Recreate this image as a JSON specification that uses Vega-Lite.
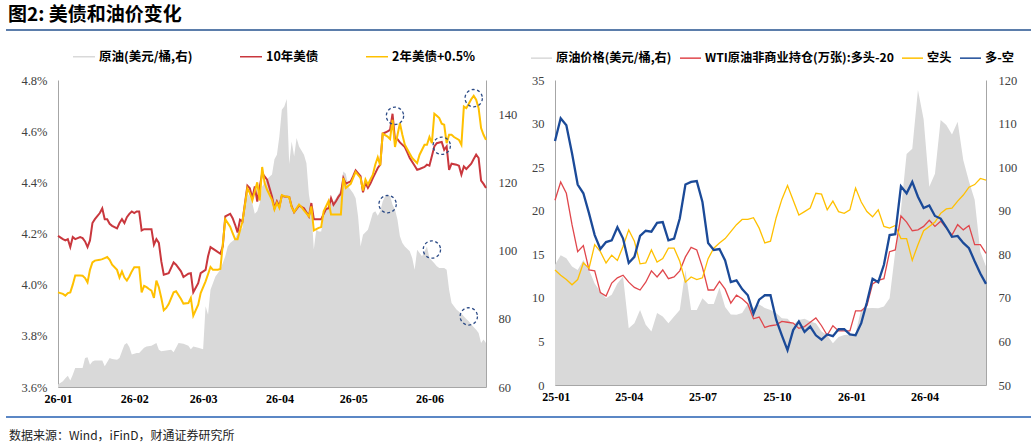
{
  "$schema": "https://vega.github.io/schema/vega-lite/v6.json",
  "padding": {"left": 5, "top": 6, "right": 0, "bottom": 0},
  "background": "white",
  "title": {"text": "图2: 美债和油价变化", "anchor": "start", "font": "Noto Sans CJK SC", "fontSize": 19, "fontWeight": "bold", "color": "#000000", "offset": 4, "dx": 3},
  "datasets": {
    "y10": [
      {"d":"2026-01-01","v":4.191},{"d":"2026-01-03","v":4.178},{"d":"2026-01-04","v":4.173},{"d":"2026-01-05","v":4.178},{"d":"2026-01-06","v":4.147},{"d":"2026-01-07","v":4.186},{"d":"2026-01-08","v":4.178},{"d":"2026-01-09","v":4.182},{"d":"2026-01-10","v":4.186},{"d":"2026-01-11","v":4.182},{"d":"2026-01-12","v":4.169},{"d":"2026-01-13","v":4.147},{"d":"2026-01-14","v":4.173},{"d":"2026-01-15","v":4.241},{"d":"2026-01-16","v":4.256},{"d":"2026-01-18","v":4.280},{"d":"2026-01-19","v":4.298},{"d":"2026-01-20","v":4.256},{"d":"2026-01-21","v":4.256},{"d":"2026-01-22","v":4.238},{"d":"2026-01-23","v":4.230},{"d":"2026-01-25","v":4.220},{"d":"2026-01-26","v":4.241},{"d":"2026-01-27","v":4.256},{"d":"2026-01-28","v":4.241},{"d":"2026-01-29","v":4.264},{"d":"2026-01-30","v":4.277},{"d":"2026-01-31","v":4.286},{"d":"2026-02-01","v":4.280},{"d":"2026-02-02","v":4.286},{"d":"2026-02-03","v":4.286},{"d":"2026-02-04","v":4.212},{"d":"2026-02-05","v":4.217},{"d":"2026-02-07","v":4.217},{"d":"2026-02-08","v":4.217},{"d":"2026-02-09","v":4.156},{"d":"2026-02-10","v":4.178},{"d":"2026-02-11","v":4.163},{"d":"2026-02-12","v":4.091},{"d":"2026-02-13","v":4.039},{"d":"2026-02-15","v":4.045},{"d":"2026-02-17","v":4.087},{"d":"2026-02-18","v":4.078},{"d":"2026-02-20","v":4.052},{"d":"2026-02-21","v":4.030},{"d":"2026-02-23","v":4.043},{"d":"2026-02-24","v":4.045},{"d":"2026-02-25","v":3.970},{"d":"2026-02-27","v":4.006},{"d":"2026-02-28","v":4.045},{"d":"2026-03-02","v":4.058},{"d":"2026-03-03","v":4.111},{"d":"2026-03-04","v":4.147},{"d":"2026-03-06","v":4.134},{"d":"2026-03-08","v":4.121},{"d":"2026-03-09","v":4.150},{"d":"2026-03-10","v":4.267},{"d":"2026-03-12","v":4.277},{"d":"2026-03-13","v":4.260},{"d":"2026-03-14","v":4.234},{"d":"2026-03-15","v":4.204},{"d":"2026-03-16","v":4.254},{"d":"2026-03-17","v":4.247},{"d":"2026-03-19","v":4.387},{"d":"2026-03-20","v":4.377},{"d":"2026-03-21","v":4.338},{"d":"2026-03-22","v":4.384},{"d":"2026-03-23","v":4.325},{"d":"2026-03-25","v":4.436},{"d":"2026-03-27","v":4.410},{"d":"2026-03-29","v":4.345},{"d":"2026-03-30","v":4.299},{"d":"2026-03-31","v":4.326},{"d":"2026-04-01","v":4.306},{"d":"2026-04-02","v":4.348},{"d":"2026-04-03","v":4.345},{"d":"2026-04-05","v":4.343},{"d":"2026-04-06","v":4.306},{"d":"2026-04-07","v":4.283},{"d":"2026-04-09","v":4.309},{"d":"2026-04-10","v":4.304},{"d":"2026-04-11","v":4.299},{"d":"2026-04-13","v":4.267},{"d":"2026-04-14","v":4.319},{"d":"2026-04-15","v":4.256},{"d":"2026-04-17","v":4.256},{"d":"2026-04-18","v":4.256},{"d":"2026-04-20","v":4.296},{"d":"2026-04-21","v":4.299},{"d":"2026-04-22","v":4.338},{"d":"2026-04-23","v":4.312},{"d":"2026-04-24","v":4.326},{"d":"2026-04-25","v":4.343},{"d":"2026-04-26","v":4.356},{"d":"2026-04-27","v":4.417},{"d":"2026-04-28","v":4.395},{"d":"2026-04-30","v":4.404},{"d":"2026-05-01","v":4.424},{"d":"2026-05-02","v":4.447},{"d":"2026-05-04","v":4.424},{"d":"2026-05-05","v":4.361},{"d":"2026-05-06","v":4.398},{"d":"2026-05-07","v":4.378},{"d":"2026-05-08","v":4.395},{"d":"2026-05-09","v":4.417},{"d":"2026-05-10","v":4.436},{"d":"2026-05-11","v":4.456},{"d":"2026-05-12","v":4.469},{"d":"2026-05-13","v":4.590},{"d":"2026-05-15","v":4.599},{"d":"2026-05-16","v":4.605},{"d":"2026-05-17","v":4.668},{"d":"2026-05-18","v":4.566},{"d":"2026-05-19","v":4.569},{"d":"2026-05-20","v":4.556},{"d":"2026-05-22","v":4.538},{"d":"2026-05-23","v":4.517},{"d":"2026-05-24","v":4.495},{"d":"2026-05-26","v":4.465},{"d":"2026-05-27","v":4.449},{"d":"2026-05-28","v":4.452},{"d":"2026-05-30","v":4.460},{"d":"2026-05-31","v":4.469},{"d":"2026-06-01","v":4.465},{"d":"2026-06-03","v":4.540},{"d":"2026-06-04","v":4.553},{"d":"2026-06-05","v":4.556},{"d":"2026-06-06","v":4.558},{"d":"2026-06-07","v":4.527},{"d":"2026-06-08","v":4.540},{"d":"2026-06-09","v":4.449},{"d":"2026-06-10","v":4.473},{"d":"2026-06-12","v":4.469},{"d":"2026-06-13","v":4.465},{"d":"2026-06-14","v":4.430},{"d":"2026-06-15","v":4.462},{"d":"2026-06-16","v":4.452},{"d":"2026-06-18","v":4.473},{"d":"2026-06-19","v":4.491},{"d":"2026-06-20","v":4.508},{"d":"2026-06-21","v":4.495},{"d":"2026-06-22","v":4.407},{"d":"2026-06-23","v":4.394},{"d":"2026-06-24","v":4.378}
    ],
    "y2": [
      {"d":"2026-01-01","v":3.970},{"d":"2026-01-03","v":3.964},{"d":"2026-01-04","v":3.957},{"d":"2026-01-05","v":3.967},{"d":"2026-01-06","v":3.970},{"d":"2026-01-07","v":4.000},{"d":"2026-01-08","v":4.036},{"d":"2026-01-10","v":4.036},{"d":"2026-01-11","v":4.035},{"d":"2026-01-12","v":4.026},{"d":"2026-01-13","v":4.009},{"d":"2026-01-14","v":4.058},{"d":"2026-01-15","v":4.087},{"d":"2026-01-16","v":4.094},{"d":"2026-01-18","v":4.097},{"d":"2026-01-19","v":4.100},{"d":"2026-01-20","v":4.104},{"d":"2026-01-21","v":4.108},{"d":"2026-01-22","v":4.097},{"d":"2026-01-23","v":4.078},{"d":"2026-01-25","v":4.058},{"d":"2026-01-26","v":4.028},{"d":"2026-01-27","v":4.052},{"d":"2026-01-28","v":4.028},{"d":"2026-01-29","v":4.016},{"d":"2026-01-30","v":4.032},{"d":"2026-01-31","v":4.052},{"d":"2026-02-01","v":4.068},{"d":"2026-02-03","v":4.068},{"d":"2026-02-04","v":3.970},{"d":"2026-02-05","v":3.995},{"d":"2026-02-06","v":3.990},{"d":"2026-02-07","v":3.983},{"d":"2026-02-08","v":3.977},{"d":"2026-02-09","v":3.948},{"d":"2026-02-10","v":4.016},{"d":"2026-02-11","v":3.990},{"d":"2026-02-12","v":3.948},{"d":"2026-02-13","v":3.900},{"d":"2026-02-14","v":3.909},{"d":"2026-02-15","v":3.924},{"d":"2026-02-17","v":3.970},{"d":"2026-02-18","v":3.974},{"d":"2026-02-20","v":3.944},{"d":"2026-02-21","v":3.926},{"d":"2026-02-23","v":3.928},{"d":"2026-02-24","v":3.948},{"d":"2026-02-25","v":3.879},{"d":"2026-02-27","v":3.922},{"d":"2026-02-28","v":3.967},{"d":"2026-03-02","v":4.013},{"d":"2026-03-04","v":4.069},{"d":"2026-03-05","v":4.058},{"d":"2026-03-07","v":4.058},{"d":"2026-03-08","v":4.061},{"d":"2026-03-10","v":4.256},{"d":"2026-03-12","v":4.227},{"d":"2026-03-13","v":4.201},{"d":"2026-03-14","v":4.178},{"d":"2026-03-15","v":4.178},{"d":"2026-03-17","v":4.247},{"d":"2026-03-19","v":4.377},{"d":"2026-03-20","v":4.358},{"d":"2026-03-21","v":4.329},{"d":"2026-03-23","v":4.400},{"d":"2026-03-24","v":4.329},{"d":"2026-03-25","v":4.460},{"d":"2026-03-26","v":4.397},{"d":"2026-03-27","v":4.371},{"d":"2026-03-29","v":4.332},{"d":"2026-03-30","v":4.294},{"d":"2026-03-31","v":4.320},{"d":"2026-04-01","v":4.300},{"d":"2026-04-02","v":4.350},{"d":"2026-04-03","v":4.346},{"d":"2026-04-05","v":4.342},{"d":"2026-04-06","v":4.303},{"d":"2026-04-07","v":4.284},{"d":"2026-04-09","v":4.313},{"d":"2026-04-10","v":4.303},{"d":"2026-04-11","v":4.290},{"d":"2026-04-13","v":4.267},{"d":"2026-04-14","v":4.306},{"d":"2026-04-15","v":4.212},{"d":"2026-04-17","v":4.222},{"d":"2026-04-18","v":4.225},{"d":"2026-04-19","v":4.287},{"d":"2026-04-21","v":4.327},{"d":"2026-04-22","v":4.274},{"d":"2026-04-26","v":4.274},{"d":"2026-04-27","v":4.417},{"d":"2026-04-28","v":4.378},{"d":"2026-04-30","v":4.394},{"d":"2026-05-01","v":4.417},{"d":"2026-05-02","v":4.441},{"d":"2026-05-04","v":4.417},{"d":"2026-05-05","v":4.368},{"d":"2026-05-06","v":4.411},{"d":"2026-05-07","v":4.391},{"d":"2026-05-08","v":4.411},{"d":"2026-05-09","v":4.430},{"d":"2026-05-10","v":4.470},{"d":"2026-05-11","v":4.498},{"d":"2026-05-12","v":4.466},{"d":"2026-05-13","v":4.590},{"d":"2026-05-15","v":4.579},{"d":"2026-05-16","v":4.569},{"d":"2026-05-17","v":4.644},{"d":"2026-05-18","v":4.538},{"d":"2026-05-20","v":4.631},{"d":"2026-05-21","v":4.586},{"d":"2026-05-22","v":4.547},{"d":"2026-05-24","v":4.512},{"d":"2026-05-25","v":4.495},{"d":"2026-05-27","v":4.475},{"d":"2026-05-28","v":4.508},{"d":"2026-05-30","v":4.547},{"d":"2026-05-31","v":4.547},{"d":"2026-06-01","v":4.577},{"d":"2026-06-02","v":4.553},{"d":"2026-06-03","v":4.668},{"d":"2026-06-04","v":4.660},{"d":"2026-06-05","v":4.651},{"d":"2026-06-06","v":4.629},{"d":"2026-06-07","v":4.625},{"d":"2026-06-08","v":4.553},{"d":"2026-06-09","v":4.586},{"d":"2026-06-10","v":4.586},{"d":"2026-06-11","v":4.577},{"d":"2026-06-13","v":4.566},{"d":"2026-06-14","v":4.547},{"d":"2026-06-15","v":4.696},{"d":"2026-06-16","v":4.690},{"d":"2026-06-17","v":4.707},{"d":"2026-06-18","v":4.725},{"d":"2026-06-19","v":4.738},{"d":"2026-06-20","v":4.723},{"d":"2026-06-21","v":4.690},{"d":"2026-06-22","v":4.612},{"d":"2026-06-23","v":4.586},{"d":"2026-06-24","v":4.566}
    ],
    "oilL": [
      {"d":"2026-01-01","v":60.7},{"d":"2026-01-03","v":61.7},{"d":"2026-01-04","v":62.6},{"d":"2026-01-05","v":63.3},{"d":"2026-01-06","v":61.9},{"d":"2026-01-07","v":63.6},{"d":"2026-01-08","v":65.6},{"d":"2026-01-11","v":65.6},{"d":"2026-01-12","v":68.5},{"d":"2026-01-13","v":68.7},{"d":"2026-01-14","v":66.5},{"d":"2026-01-15","v":67.5},{"d":"2026-01-16","v":67.8},{"d":"2026-01-19","v":67.8},{"d":"2026-01-20","v":66.1},{"d":"2026-01-22","v":68.5},{"d":"2026-01-23","v":68.2},{"d":"2026-01-25","v":68.0},{"d":"2026-01-26","v":68.5},{"d":"2026-01-27","v":70.5},{"d":"2026-01-28","v":72.4},{"d":"2026-01-29","v":72.9},{"d":"2026-01-30","v":71.7},{"d":"2026-01-31","v":69.5},{"d":"2026-02-02","v":70.0},{"d":"2026-02-03","v":70.0},{"d":"2026-02-05","v":71.5},{"d":"2026-02-06","v":71.9},{"d":"2026-02-08","v":72.1},{"d":"2026-02-10","v":72.9},{"d":"2026-02-11","v":70.9},{"d":"2026-02-12","v":70.5},{"d":"2026-02-16","v":70.9},{"d":"2026-02-17","v":70.2},{"d":"2026-02-19","v":72.9},{"d":"2026-02-21","v":72.7},{"d":"2026-02-23","v":72.1},{"d":"2026-02-24","v":71.1},{"d":"2026-02-25","v":71.9},{"d":"2026-02-27","v":71.5},{"d":"2026-03-01","v":71.1},{"d":"2026-03-02","v":83.7},{"d":"2026-03-03","v":81.2},{"d":"2026-03-04","v":88.5},{"d":"2026-03-06","v":92.4},{"d":"2026-03-08","v":94.4},{"d":"2026-03-10","v":98.3},{"d":"2026-03-11","v":101.2},{"d":"2026-03-12","v":102.2},{"d":"2026-03-14","v":103.4},{"d":"2026-03-15","v":105.1},{"d":"2026-03-17","v":106.6},{"d":"2026-03-18","v":112.9},{"d":"2026-03-19","v":116.8},{"d":"2026-03-20","v":115.8},{"d":"2026-03-21","v":113.9},{"d":"2026-03-22","v":110.8},{"d":"2026-03-23","v":111.5},{"d":"2026-03-24","v":113.9},{"d":"2026-03-25","v":118.8},{"d":"2026-03-27","v":121.0},{"d":"2026-03-29","v":122.3},{"d":"2026-03-30","v":126.8},{"d":"2026-03-31","v":128.1},{"d":"2026-04-01","v":133.5},{"d":"2026-04-02","v":141.3},{"d":"2026-04-03","v":142.2},{"d":"2026-04-04","v":144.4},{"d":"2026-04-05","v":125.4},{"d":"2026-04-06","v":132.0},{"d":"2026-04-07","v":127.6},{"d":"2026-04-08","v":133.0},{"d":"2026-04-09","v":130.5},{"d":"2026-04-11","v":128.1},{"d":"2026-04-12","v":125.6},{"d":"2026-04-13","v":116.5},{"d":"2026-04-14","v":112.0},{"d":"2026-04-15","v":100.3},{"d":"2026-04-16","v":106.1},{"d":"2026-04-17","v":105.6},{"d":"2026-04-18","v":105.6},{"d":"2026-04-19","v":110.0},{"d":"2026-04-20","v":112.0},{"d":"2026-04-21","v":113.0},{"d":"2026-04-23","v":114.4},{"d":"2026-04-24","v":115.3},{"d":"2026-04-26","v":117.8},{"d":"2026-04-27","v":123.2},{"d":"2026-04-28","v":122.5},{"d":"2026-04-29","v":118.8},{"d":"2026-05-01","v":116.8},{"d":"2026-05-02","v":115.3},{"d":"2026-05-03","v":110.0},{"d":"2026-05-04","v":101.2},{"d":"2026-05-05","v":104.6},{"d":"2026-05-07","v":106.1},{"d":"2026-05-08","v":108.5},{"d":"2026-05-09","v":111.0},{"d":"2026-05-10","v":111.5},{"d":"2026-05-11","v":110.2},{"d":"2026-05-12","v":111.5},{"d":"2026-05-13","v":114.4},{"d":"2026-05-14","v":115.9},{"d":"2026-05-16","v":116.1},{"d":"2026-05-17","v":113.4},{"d":"2026-05-18","v":112.0},{"d":"2026-05-19","v":109.1},{"d":"2026-05-20","v":104.2},{"d":"2026-05-21","v":102.2},{"d":"2026-05-22","v":101.2},{"d":"2026-05-24","v":99.8},{"d":"2026-05-25","v":97.8},{"d":"2026-05-26","v":94.4},{"d":"2026-05-27","v":100.2},{"d":"2026-05-28","v":99.3},{"d":"2026-05-29","v":98.3},{"d":"2026-05-31","v":101.2},{"d":"2026-06-01","v":97.8},{"d":"2026-06-03","v":96.3},{"d":"2026-06-04","v":95.4},{"d":"2026-06-05","v":94.9},{"d":"2026-06-07","v":94.9},{"d":"2026-06-08","v":94.4},{"d":"2026-06-09","v":88.5},{"d":"2026-06-10","v":84.6},{"d":"2026-06-12","v":82.7},{"d":"2026-06-14","v":81.5},{"d":"2026-06-16","v":79.9},{"d":"2026-06-17","v":79.3},{"d":"2026-06-18","v":78.3},{"d":"2026-06-20","v":76.8},{"d":"2026-06-21","v":75.8},{"d":"2026-06-22","v":72.9},{"d":"2026-06-23","v":73.9},{"d":"2026-06-24","v":72.9}
    ],
    "circY": [{"d":"2026-05-18","v":4.660},{"d":"2026-06-19","v":4.729},{"d":"2026-06-06","v":4.543}],
    "circO": [{"d":"2026-05-15","v":113.6},{"d":"2026-06-02","v":100.3},{"d":"2026-06-17","v":80.7}],
    "footer": [{"t": "数据来源：Wind，iFinD，财通证券研究所"}],
    "cot": [
      {"d":"2024-12-31","oil":77.6,"long":21.2,"short":13.2,"net":28.0},
      {"d":"2025-01-07","oil":79.8,"long":23.3,"short":12.6,"net":30.6},
      {"d":"2025-01-14","oil":79.1,"long":22.0,"short":12.1,"net":29.8},
      {"d":"2025-01-21","oil":77.2,"long":18.4,"short":11.5,"net":26.6},
      {"d":"2025-01-28","oil":76.4,"long":15.3,"short":12.1,"net":23.0},
      {"d":"2025-02-04","oil":78.7,"long":16.0,"short":14.0,"net":22.0},
      {"d":"2025-02-11","oil":76.4,"long":13.2,"short":13.4,"net":19.7},
      {"d":"2025-02-18","oil":73.3,"long":13.1,"short":16.1,"net":17.2},
      {"d":"2025-02-25","oil":71.4,"long":10.6,"short":15.3,"net":15.6},
      {"d":"2025-03-04","oil":69.9,"long":10.2,"short":14.0,"net":16.4},
      {"d":"2025-03-11","oil":70.7,"long":11.7,"short":14.9,"net":16.6},
      {"d":"2025-03-18","oil":73.3,"long":12.3,"short":14.3,"net":18.1},
      {"d":"2025-03-25","oil":74.9,"long":12.6,"short":15.9,"net":16.8},
      {"d":"2025-04-01","oil":63.0,"long":11.8,"short":17.8,"net":14.0},
      {"d":"2025-04-08","oil":64.2,"long":11.2,"short":16.5,"net":14.7},
      {"d":"2025-04-15","oil":67.2,"long":10.9,"short":13.9,"net":17.1},
      {"d":"2025-04-22","oil":63.8,"long":11.8,"short":14.0,"net":17.7},
      {"d":"2025-04-29","oil":62.3,"long":13.1,"short":15.5,"net":17.6},
      {"d":"2025-05-06","oil":66.5,"long":12.4,"short":14.1,"net":18.6},
      {"d":"2025-05-13","oil":65.7,"long":13.2,"short":14.5,"net":18.7},
      {"d":"2025-05-20","oil":64.2,"long":12.2,"short":15.7,"net":16.6},
      {"d":"2025-05-27","oil":65.7,"long":12.4,"short":15.7,"net":16.8},
      {"d":"2025-06-03","oil":67.2,"long":13.1,"short":14.2,"net":19.1},
      {"d":"2025-06-10","oil":76.4,"long":14.7,"short":11.8,"net":23.0},
      {"d":"2025-06-17","oil":67.2,"long":15.8,"short":12.4,"net":23.3},
      {"d":"2025-06-24","oil":67.2,"long":15.5,"short":12.1,"net":23.4},
      {"d":"2025-07-01","oil":69.9,"long":13.5,"short":12.3,"net":21.0},
      {"d":"2025-07-08","oil":68.6,"long":10.9,"short":14.5,"net":16.3},
      {"d":"2025-07-15","oil":68.6,"long":10.9,"short":15.7,"net":15.5},
      {"d":"2025-07-22","oil":72.3,"long":11.9,"short":16.3,"net":15.6},
      {"d":"2025-07-29","oil":67.9,"long":11.0,"short":16.8,"net":14.3},
      {"d":"2025-08-05","oil":66.2,"long":9.4,"short":17.6,"net":11.8},
      {"d":"2025-08-12","oil":66.1,"long":10.3,"short":18.4,"net":12.0},
      {"d":"2025-08-19","oil":66.5,"long":9.9,"short":19.0,"net":11.0},
      {"d":"2025-08-26","oil":68.6,"long":9.3,"short":19.0,"net":10.3},
      {"d":"2025-09-02","oil":67.7,"long":7.6,"short":19.2,"net":8.2},
      {"d":"2025-09-09","oil":68.5,"long":7.8,"short":18.0,"net":9.8},
      {"d":"2025-09-16","oil":67.7,"long":6.6,"short":16.3,"net":10.3},
      {"d":"2025-09-23","oil":67.2,"long":6.8,"short":16.5,"net":10.3},
      {"d":"2025-09-30","oil":66.5,"long":6.9,"short":19.2,"net":7.5},
      {"d":"2025-10-07","oil":65.3,"long":7.3,"short":21.3,"net":5.7},
      {"d":"2025-10-14","oil":65.2,"long":7.2,"short":22.9,"net":4.0},
      {"d":"2025-10-21","oil":63.9,"long":7.1,"short":21.2,"net":6.3},
      {"d":"2025-10-28","oil":64.9,"long":6.5,"short":19.5,"net":7.3},
      {"d":"2025-11-04","oil":65.2,"long":6.7,"short":19.9,"net":6.1},
      {"d":"2025-11-11","oil":64.6,"long":7.2,"short":20.3,"net":6.7},
      {"d":"2025-11-18","oil":64.2,"long":7.7,"short":22.0,"net":5.7},
      {"d":"2025-11-25","oil":62.3,"long":6.8,"short":21.9,"net":5.2},
      {"d":"2025-12-02","oil":61.4,"long":5.7,"short":20.1,"net":5.8},
      {"d":"2025-12-09","oil":59.6,"long":6.8,"short":21.1,"net":5.6},
      {"d":"2025-12-16","oil":61.0,"long":6.2,"short":19.9,"net":6.4},
      {"d":"2025-12-23","oil":61.5,"long":6.2,"short":19.7,"net":6.4},
      {"d":"2025-12-30","oil":61.6,"long":6.2,"short":20.1,"net":5.8},
      {"d":"2026-01-06","oil":61.9,"long":8.5,"short":22.6,"net":5.7},
      {"d":"2026-01-13","oil":67.4,"long":8.5,"short":21.0,"net":7.1},
      {"d":"2026-01-20","oil":67.6,"long":9.1,"short":19.9,"net":9.5},
      {"d":"2026-01-27","oil":67.7,"long":11.6,"short":19.3,"net":12.2},
      {"d":"2026-02-03","oil":67.6,"long":12.0,"short":20.1,"net":11.8},
      {"d":"2026-02-10","oil":68.0,"long":12.2,"short":18.2,"net":13.8},
      {"d":"2026-02-17","oil":69.9,"long":15.3,"short":18.0,"net":17.2},
      {"d":"2026-02-24","oil":80.6,"long":15.5,"short":18.3,"net":17.3},
      {"d":"2026-03-03","oil":90.2,"long":19.4,"short":16.8,"net":22.8},
      {"d":"2026-03-10","oil":103.0,"long":18.7,"short":16.8,"net":22.0},
      {"d":"2026-03-17","oil":104.2,"long":17.7,"short":14.3,"net":23.3},
      {"d":"2026-03-24","oil":117.7,"long":17.8,"short":16.1,"net":21.6},
      {"d":"2026-03-31","oil":111.0,"long":18.2,"short":17.7,"net":20.3},
      {"d":"2026-04-07","oil":95.5,"long":18.9,"short":18.2,"net":20.6},
      {"d":"2026-04-14","oil":98.5,"long":18.2,"short":18.7,"net":19.4},
      {"d":"2026-04-21","oil":110.8,"long":18.8,"short":19.7,"net":19.1},
      {"d":"2026-04-28","oil":109.7,"long":18.0,"short":20.2,"net":18.1},
      {"d":"2026-05-05","oil":107.5,"long":17.2,"short":20.3,"net":17.0},
      {"d":"2026-05-12","oil":110.4,"long":18.4,"short":21.1,"net":17.1},
      {"d":"2026-05-19","oil":101.6,"long":17.8,"short":21.8,"net":16.3},
      {"d":"2026-05-26","oil":96.7,"long":18.3,"short":22.7,"net":15.7},
      {"d":"2026-06-02","oil":92.5,"long":16.1,"short":23.0,"net":14.2},
      {"d":"2026-06-09","oil":80.6,"long":16.1,"short":23.7,"net":12.8},
      {"d":"2026-06-16","oil":77.2,"long":15.1,"short":23.5,"net":11.6}
    ]
  },
  "spacing": 8,
  "vconcat": [
    {
      "width": 973, "height": 6,
      "data": {"values": [{"k": 1}]},
      "mark": {"type": "rule", "color": "#24528f", "strokeWidth": 1.5, "clip": false},
      "encoding": {
        "x": {"datum": 0, "type": "quantitative", "scale": {"domain": [0, 1], "range": [-52, 973]}, "axis": null},
        "x2": {"datum": 1},
        "y": {"datum": 1, "type": "quantitative", "scale": {"domain": [0, 1]}, "axis": null}
      }
    },
    {
      "hconcat": [
        {
          "width": 428, "height": 307,
          "layer": [
            {
              "layer": [
                {
                  "data": {"name": "oilL"},
                  "mark": {"type": "area", "opacity": 1, "clip": true},
                  "encoding": {
                    "x": {"field": "d", "type": "temporal", "scale": {"domain": [{"year": 2026, "month": 1, "date": 1}, {"year": 2026, "month": 6, "date": 24}]}, "axis": {"title": null, "format": "%y-%m", "tickCount": "month", "labelFont": "Liberation Serif", "labelFontWeight": "bold", "labelFontSize": 12, "labelColor": "#000000", "labelPadding": 6, "ticks": false, "domainColor": "#a6a6a6", "labelFlush": false, "labelOverlap": false, "grid": false}},
                    "y": {"field": "v", "type": "quantitative", "scale": {"domain": [60, 150], "zero": false, "nice": false}, "axis": {"orient": "right", "title": null, "values": [60,70,80,90,100,110,120,130,140,150], "labelPadding": 12, "ticks": false, "grid": false, "domainColor": "#a6a6a6", "labelFont": "Liberation Serif", "labelFontSize": 12.5, "labelColor": "#404040"}},
                    "y2": {"datum": 60},
                    "color": {"datum": "原油(美元/桶,右)", "scale": {"domain": ["原油(美元/桶,右)", "10年美债", "2年美债+0.5%"], "range": ["#d9d9d9", "#c9373d", "#ffc000"]},
                      "legend": {"orient": "none", "legendX": 14, "legendY": -35.5, "direction": "horizontal", "title": null, "columnPadding": 44, "labelOffset": 3, "labelLimit": 300, "symbolSize": 484, "symbolType": "stroke", "labelFont": "Noto Sans CJK SC", "labelFontWeight": "bold", "labelFontSize": 12.5, "labelColor": "#000000",
                        "encode": {"symbols": {"update": {"shape": {"value": "stroke"}, "fill": {"value": "transparent"}, "opacity": {"value": 1},
                          "stroke": {"signal": "datum.value === '原油(美元/桶,右)' ? '#d9d9d9' : (datum.value === '10年美债' ? '#c9373d' : '#ffc000')"},
                          "strokeWidth": {"signal": "datum.value === '原油(美元/桶,右)' ? 8 : 2"}}}}}}
                  }
                },
                {
                  "data": {"name": "circO"},
                  "mark": {"type": "point", "shape": "circle", "filled": false, "size": 300, "stroke": "#2b4a86", "strokeWidth": 1.3, "strokeDash": [3, 2.5], "opacity": 1},
                  "encoding": {
                    "x": {"field": "d", "type": "temporal"},
                    "y": {"field": "v", "type": "quantitative", "scale": {"domain": [60, 150], "zero": false, "nice": false}}
                  }
                }
              ]
            },
            {
              "layer": [
                {
                  "data": {"name": "y10"},
                  "mark": {"type": "line", "strokeWidth": 2},
                  "encoding": {
                    "x": {"field": "d", "type": "temporal"},
                    "y": {"field": "v", "type": "quantitative", "scale": {"domain": [3.6, 4.8], "zero": false, "nice": false}, "axis": {"orient": "left", "title": "%", "titleColor": "#ffffff", "titleFontSize": 5, "titlePadding": 9, "values": [3.6,3.8,4.0,4.2,4.4,4.6,4.8], "labelExpr": "format(datum.value, '.1f') + '%'", "labelPadding": 11, "ticks": false, "grid": false, "domainColor": "#a6a6a6", "labelFont": "Liberation Serif", "labelFontSize": 12.5, "labelColor": "#404040"}},
                    "color": {"datum": "10年美债"}
                  }
                },
                {
                  "data": {"name": "y2"},
                  "mark": {"type": "line", "strokeWidth": 2},
                  "encoding": {
                    "x": {"field": "d", "type": "temporal"},
                    "y": {"field": "v", "type": "quantitative"},
                    "color": {"datum": "2年美债+0.5%"}
                  }
                },
                {
                  "data": {"name": "circY"},
                  "mark": {"type": "point", "shape": "circle", "filled": false, "size": 300, "stroke": "#2b4a86", "strokeWidth": 1.3, "strokeDash": [3, 2.5], "opacity": 1},
                  "encoding": {
                    "x": {"field": "d", "type": "temporal"},
                    "y": {"field": "v", "type": "quantitative"}
                  }
                }
              ]
            }
          ],
          "resolve": {"scale": {"y": "independent"}, "axis": {"y": "independent"}}
        },
        {
          "width": 431, "height": 305,
          "data": {"name": "cot"},
          "layer": [
            {
              "mark": {"type": "area", "opacity": 1, "clip": true},
              "encoding": {
                "x": {"field": "d", "type": "temporal", "scale": {"domain": [{"year": 2024, "month": 12, "date": 31}, {"year": 2026, "month": 6, "date": 16}]}, "axis": {"title": null, "format": "%y-%m", "tickCount": {"interval": "month", "step": 3}, "labelFont": "Liberation Serif", "labelFontWeight": "bold", "labelFontSize": 12, "labelColor": "#000000", "labelPadding": 6, "ticks": false, "domainColor": "#a6a6a6", "labelFlush": false, "labelOverlap": false, "grid": false}},
                "y": {"field": "oil", "type": "quantitative", "scale": {"domain": [50, 120], "zero": false, "nice": false}, "axis": {"orient": "right", "title": null, "values": [50,60,70,80,90,100,110,120], "labelPadding": 12, "ticks": false, "grid": false, "domainColor": "#a6a6a6", "labelFont": "Liberation Serif", "labelFontSize": 12.5, "labelColor": "#404040"}},
                "y2": {"datum": 50},
                "color": {"datum": "原油价格(美元/桶,右)", "scale": {"domain": ["原油价格(美元/桶,右)", "WTI原油非商业持仓(万张):多头-20", "空头", "多-空"], "range": ["#d9d9d9", "#e0474c", "#ffc000", "#1b4a98"]},
                  "legend": {"orient": "none", "legendX": -25, "legendY": -33.5, "direction": "horizontal", "title": null, "columnPadding": 5, "labelOffset": 3, "labelLimit": 300, "symbolSize": 441, "symbolType": "stroke", "labelFont": "Noto Sans CJK SC", "labelFontWeight": "bold", "labelFontSize": 12.2, "labelColor": "#000000",
                    "encode": {"symbols": {"update": {"shape": {"value": "stroke"}, "fill": {"value": "transparent"}, "opacity": {"value": 1},
                      "stroke": {"signal": "datum.value === '原油价格(美元/桶,右)' ? '#d9d9d9' : (datum.value === '空头' ? '#ffc000' : (datum.value === '多-空' ? '#1b4a98' : '#e0474c'))"},
                      "strokeWidth": {"signal": "datum.value === '原油价格(美元/桶,右)' ? 8 : (datum.value === '多-空' ? 2.5 : 1.5)"}}}}}}
              }
            },
            {
              "layer": [
                {
                  "mark": {"type": "line", "strokeWidth": 1.3},
                  "encoding": {
                    "x": {"field": "d", "type": "temporal"},
                    "y": {"field": "long", "type": "quantitative", "scale": {"domain": [0, 35], "nice": false}, "axis": {"orient": "left", "title": null, "values": [0,5,10,15,20,25,30,35], "labelPadding": 11, "ticks": false, "grid": false, "domainColor": "#a6a6a6", "labelFont": "Liberation Serif", "labelFontSize": 12.5, "labelColor": "#404040"}},
                    "color": {"datum": "WTI原油非商业持仓(万张):多头-20"}
                  }
                },
                {
                  "mark": {"type": "line", "strokeWidth": 1.3},
                  "encoding": {
                    "x": {"field": "d", "type": "temporal"},
                    "y": {"field": "short", "type": "quantitative"},
                    "color": {"datum": "空头"}
                  }
                },
                {
                  "mark": {"type": "line", "strokeWidth": 2.3},
                  "encoding": {
                    "x": {"field": "d", "type": "temporal"},
                    "y": {"field": "net", "type": "quantitative"},
                    "color": {"datum": "多-空"}
                  }
                }
              ]
            }
          ],
          "resolve": {"scale": {"y": "independent"}, "axis": {"y": "independent"}}
        }
      ],
      "spacing": 13,
      "resolve": {"scale": {"color": "independent"}, "legend": {"color": "independent"}}
    },
    {
      "width": 973, "height": 28,
      "data": {"name": "footer"},
      "layer": [
        {
          "mark": {"type": "rule", "color": "#5b87c5", "strokeWidth": 2, "clip": false},
          "encoding": {
            "x": {"datum": 0, "type": "quantitative", "scale": {"domain": [0, 1], "range": [-52, 973]}, "axis": null},
            "x2": {"datum": 1},
            "y": {"datum": 23, "type": "quantitative", "scale": {"domain": [0, 28]}, "axis": null}
          }
        },
        {
          "mark": {"type": "text", "align": "left", "baseline": "middle", "dx": 3, "font": "Noto Sans CJK SC", "fontSize": 12, "color": "#222222", "clip": false},
          "encoding": {
            "x": {"datum": 0, "type": "quantitative"},
            "y": {"datum": 4, "type": "quantitative"},
            "text": {"field": "t"}
          }
        }
      ]
    }
  ],
  "config": {
    "view": {"stroke": null},
    "axis": {"grid": false}
  }
}
